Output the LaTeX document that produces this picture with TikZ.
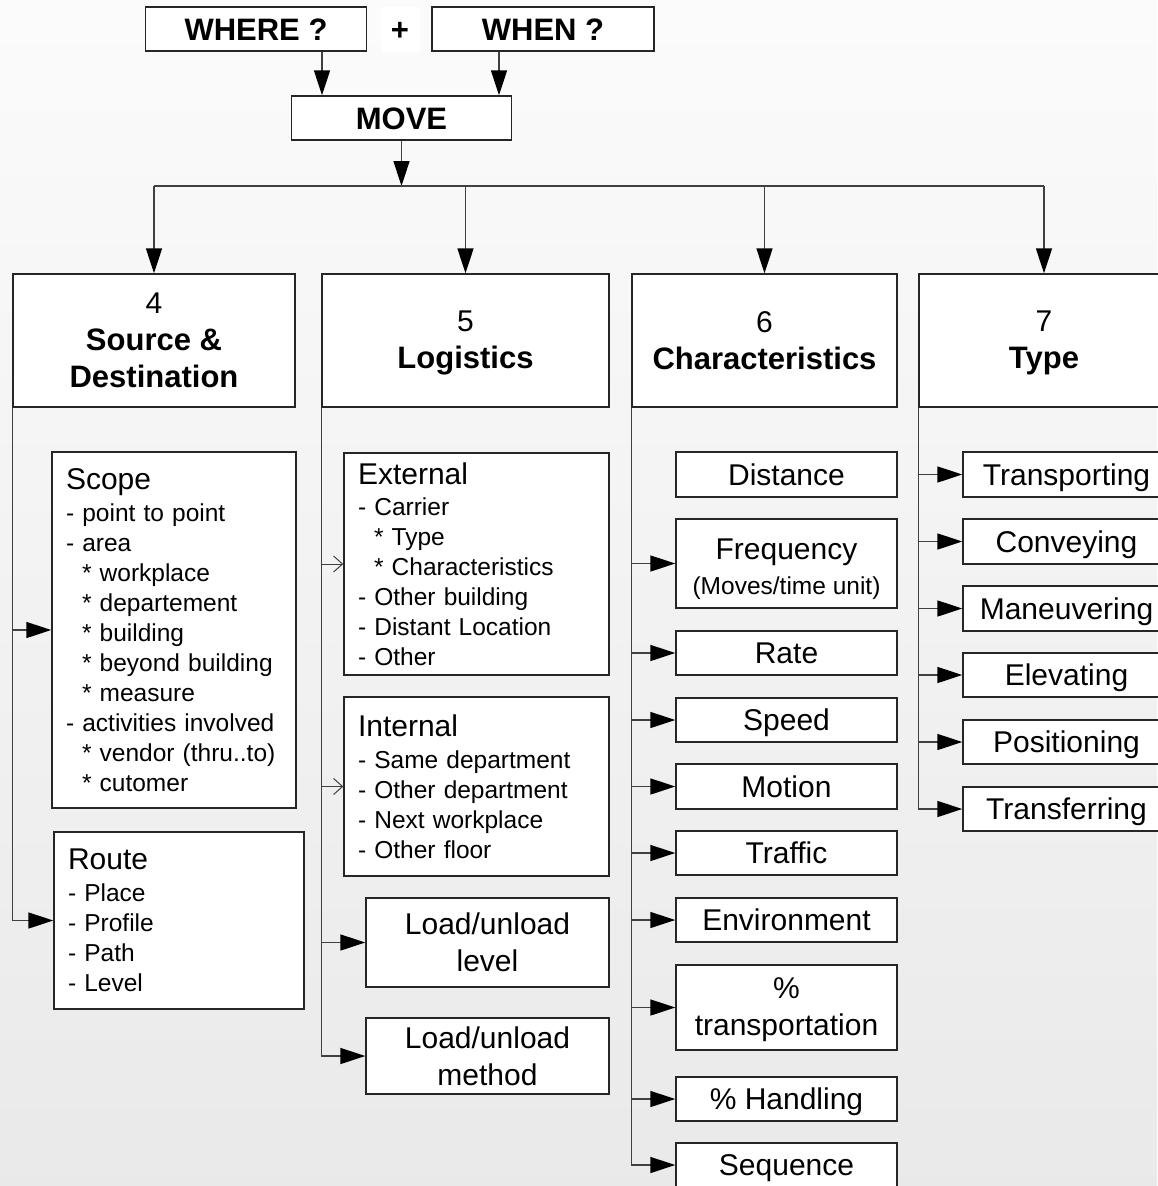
\documentclass[tikz,border=0pt]{standalone}
\usepackage{fontspec}
\setmainfont{Liberation Sans}
\usetikzlibrary{arrows.meta}
\newcommand\ttl[1]{{\fontsize{30}{30}\selectfont #1}}
\newcommand\bt[1]{{\fontsize{31}{37}\selectfont\bfseries #1}}
\newcommand\ind{\hspace*{16pt}}
\tikzset{
  box/.style={draw=black!85, fill=white, line width=1.4pt, inner sep=0pt, align=center,
    font=\fontsize{30}{37}\selectfont},
  hdr/.style={box, font=\fontsize{31}{37}\selectfont\bfseries, text height=22pt, text depth=0pt},
  one/.style={box, text height=21.5pt, text depth=0pt},
  lst/.style={box, align=left, inner xsep=14pt, text width=#1, font=\fontsize{24.5}{30}\selectfont},
  ln/.style={draw=black!75, line width=1.5pt},
  arr/.style={ln, -{Triangle[length=25pt,width=16pt,color=black]}},
  oarr/.style={draw=black!75, line width=1pt, -{Straight Barb[length=9pt,width=16pt]}},
}
\begin{document}
\begin{tikzpicture}[x=1pt,y=-1pt]
\useasboundingbox (0,0) rectangle (1157,1186);
\shade[top color=gray!3, bottom color=gray!17] (0,0) rectangle (1157,1186);

% top
\node[hdr, minimum width=221, minimum height=44] (where) at (256,29) {WHERE ?};
\node[hdr, draw=none, minimum width=39, minimum height=45] (plus) at (400,29.5) {+};
\node[hdr, minimum width=222, minimum height=44] (when) at (543,29) {WHEN ?};
\node[hdr, minimum width=220, minimum height=44] (move) at (401.5,118) {MOVE};
\coordinate (bus) at (402,186);

\draw[arr] ([xshift=66pt]where.south) -- ([xshift=66pt]where.south |- move.north);
\draw[arr] ([xshift=-44pt]when.south) -- ([xshift=-44pt]when.south |- move.north);
\draw[arr] (move.south) -- (move.south |- bus);

% category boxes
\node[box, minimum width=282, minimum height=133] (b4) at (154,340.5) {4\\\bt{Source \&}\\\bt{Destination}};
\node[box, minimum width=287, minimum height=133] (b5) at (465.5,340.5) {\rule{0pt}{26pt}5\\\bt{Logistics}};
\node[box, minimum width=265, minimum height=133] (b6) at (764.5,340.5) {6\\\bt{Characteristics}};
\node[box, minimum width=250, minimum height=133] (b7) at (1044,340.5) {\rule{0pt}{26pt}7\\\bt{Type}};

\draw[ln] (b4.north |- bus) -- (b7.north |- bus);
\foreach \b in {b4,b5,b6,b7} \draw[arr] (\b.north |- bus) -- (\b.north);

% column 4
\node[lst=216pt, minimum width=244, minimum height=356] (scope) at (174,630)
 {\ttl{Scope}\\[1.5pt]
  - point to point\\
  - area\\
  \ind* workplace\\
  \ind* departement\\
  \ind* building\\
  \ind* beyond building\\
  \ind* measure\\
  - activities involved\\
  \ind* vendor (thru..to)\\
  \ind* cutomer};
\node[lst=222pt, minimum width=250, minimum height=177] (route) at (179,920.5)
 {\ttl{Route}\\[2pt]
  - Place\\
  - Profile\\
  - Path\\
  - Level};
\draw[arr] (b4.south west) |- (route.west);
\draw[arr] (b4.south west |- scope.west) -- (scope.west);

% column 5
\node[lst=237pt, minimum width=265, minimum height=222] (ext) at (476.5,564)
 {\ttl{External}\\[1pt]
  - Carrier\\
  \ind* Type\\
  \ind* Characteristics\\
  - Other building\\
  - Distant Location\\
  - Other};
\node[lst=237pt, minimum width=265, minimum height=179] (int) at (476.5,786.5)
 {\ttl{Internal}\\[2pt]
  - Same department\\
  - Other department\\
  - Next workplace\\
  - Other floor};
\node[box, minimum width=243, minimum height=89] (lev) at (487.5,942.5) {Load/unload\\level};
\node[box, minimum width=243, minimum height=76] (meth) at (487.5,1056) {Load/unload\\method};
\draw[oarr] (b5.south west |- ext.west) -- (ext.west);
\draw[oarr] (b5.south west |- int.west) -- (int.west);
\draw[arr] (b5.south west) |- (meth.west);
\draw[arr] (b5.south west |- lev.west) -- (lev.west);

% column 6
\node[one, minimum width=221, minimum height=45] (dist) at (786.5,474.5) {Distance};
\node[box, minimum width=221, minimum height=89] (freq) at (786.5,563.5)
 {\rule{0pt}{31.5pt}Frequency\\[-2pt]{\fontsize{24.5}{30}\selectfont (Moves/time unit)}};
\node[one, minimum width=221, minimum height=44] (rate) at (786.5,653) {Rate};
\node[one, minimum width=221, minimum height=44] (speed) at (786.5,720) {Speed};
\node[one, minimum width=221, minimum height=45] (motion) at (786.5,786.5) {Motion};
\node[one, minimum width=221, minimum height=44] (traffic) at (786.5,853) {Traffic};
\node[one, minimum width=221, minimum height=44] (env) at (786.5,920) {Environment};
\node[box, minimum width=221, minimum height=85] (ptr) at (786.5,1007.5) {\rule{0pt}{25.5pt}\%\\transportation};
\node[one, minimum width=221, minimum height=44] (phd) at (786.5,1099) {\% Handling};
\node[one, minimum width=221, minimum height=44] (seq) at (786.5,1165) {Sequence};
\draw[arr] (b6.south west) |- (seq.west);
\foreach \n in {freq,rate,speed,motion,traffic,env,ptr,phd}
  \draw[arr] (b6.south west |- \n.west) -- (\n.west);

% column 7
\node[one, minimum width=207, minimum height=45] (tsp) at (1066.5,474.5) {Transporting};
\node[one, minimum width=207, minimum height=45] (cnv) at (1066.5,541.5) {Conveying};
\node[one, minimum width=207, minimum height=45] (man) at (1066.5,608.5) {Maneuvering};
\node[one, minimum width=207, minimum height=44] (elv) at (1066.5,675) {Elevating};
\node[one, minimum width=207, minimum height=44] (pos) at (1066.5,742) {Positioning};
\node[one, minimum width=207, minimum height=44] (trf) at (1066.5,809) {Transferring};
\draw[arr] (b7.south west) |- (trf.west);
\foreach \n in {tsp,cnv,man,elv,pos}
  \draw[arr] (b7.south west |- \n.west) -- (\n.west);
\end{tikzpicture}
\end{document}
